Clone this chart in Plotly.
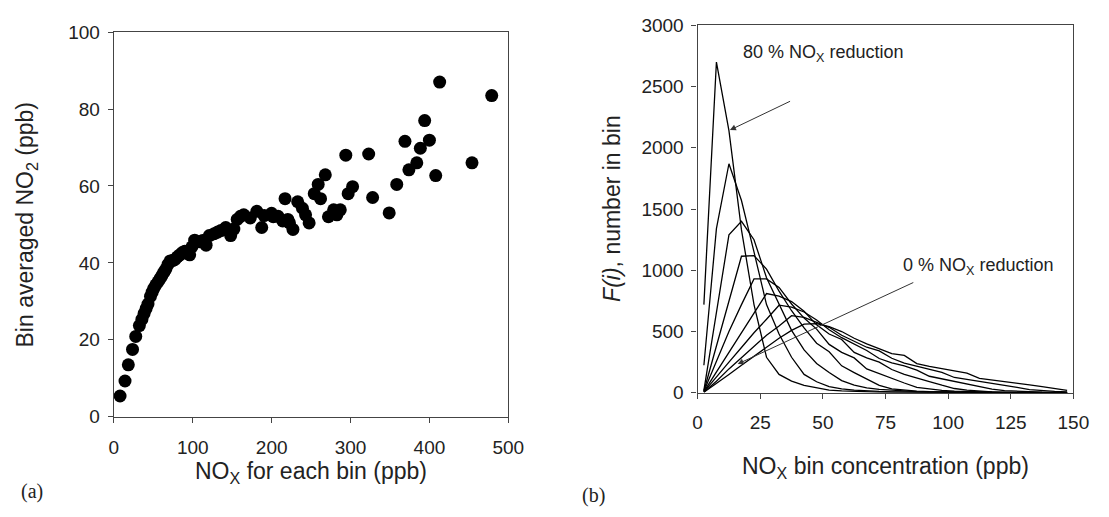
import plotly.graph_objects as go

# ---------------- Panel (a) data ----------------
nox_bin = [7.8, 14.1, 18.3, 23.6, 27.7, 32.3, 35.5, 38.2, 40.8, 43.2, 46.4, 48.5, 50.6, 53.2, 56, 58.5,
           60.9, 63.4, 65.9, 68.6, 71.3, 74.4, 77.5, 80.6, 83.7, 86.8, 89.9, 96.1, 99, 102.4, 108.6,
           112.5, 116.9, 121, 127.2, 131.5, 135.6, 141.8, 148, 152.1, 156.3, 160.5, 164.6, 172.9,
           181.2, 187.4, 190.5, 199.9, 202, 208.1, 214, 217, 220.5, 222.6, 227, 233, 239, 243,
           247.5, 254, 259, 262, 268, 272, 278.6, 282.7, 287, 294, 297, 302.6, 323, 328, 349,
           358.6, 369, 374, 384, 388.5, 394, 400, 408, 413, 454, 479]
no2_avg = [5.4, 9.3, 13.5, 17.5, 20.9, 23.7, 25.3, 26.8, 28.1, 29.3, 31.3, 32.4, 33.4, 34.3, 35.1, 35.9,
           36.7, 37.6, 38.4, 39.6, 40.5, 40.6, 40.9, 41.6, 42.1, 42.7, 43.0, 42.1, 44.2, 45.9, 45.5,
           45.8, 44.6, 47.1, 47.6, 48.0, 48.4, 49.2, 47.1, 48.8, 51.3, 52.1, 52.5, 51.7,
           53.4, 49.2, 52.3, 52.9, 52.0, 52.1, 50.9, 56.7, 51.3, 50.4, 48.7, 55.9, 54.2, 52.5,
           50.4, 58.0, 60.4, 56.7, 62.9, 52.0, 53.8, 52.5, 53.8, 68.0, 58.0, 59.8, 68.3, 57.0, 53.0,
           60.4, 71.6, 64.2, 66.0, 69.8, 77.0, 71.9, 62.7, 87.0, 66.0, 83.5]

# ---------------- Panel (b) data ----------------
bin_conc = [2.5, 7.5, 12.5, 17.5, 22.5, 27.5, 32.5, 37.5, 42.5, 47.5, 52.5, 57.5, 62.5, 67.5, 72.5,
            77.5, 82.5, 87.5, 92.5, 97.5, 102.5, 107.5, 112.5, 117.5, 122.5, 127.5, 132.5, 137.5,
            142.5, 147.5]
red80 = [720, 2700, 2140, 1330, 720, 290, 150, 95, 60, 40, 22, 15, 10, 8, 6, 5, 4, 3, 3, 2, 2, 2, 1, 1, 1, 1, 1, 0, 0, 0]
red70 = [225, 1340, 1870, 1570, 1150, 720, 480, 290, 150, 90, 50, 32, 22, 15, 11, 8, 6, 5, 4, 3, 3, 2, 2, 2, 1, 1, 1, 1, 0, 0]
red60 = [20, 640, 1290, 1400, 1250, 940, 720, 510, 350, 240, 165, 100, 62, 40, 28, 20, 14, 10, 8, 6, 5, 4, 3, 3, 2, 2, 1, 1, 1, 0]
red50 = [15, 380, 760, 1115, 1120, 1010, 830, 670, 530, 405, 335, 220, 165, 112, 60, 32, 20, 13, 9, 7, 5, 4, 3, 3, 2, 2, 1, 1, 1, 1]
red40 = [12, 250, 500, 720, 930, 930, 860, 725, 610, 520, 395, 330, 285, 195, 155, 120, 80, 45, 30, 20, 13, 9, 6, 5, 4, 3, 2, 2, 1, 1]
red30 = [10, 170, 340, 500, 660, 810, 790, 745, 665, 555, 480, 435, 330, 285, 250, 190, 150, 118, 92, 62, 35, 22, 13, 8, 5, 4, 3, 2, 2, 1]
red20 = [8, 125, 250, 370, 490, 600, 715, 700, 660, 595, 515, 450, 395, 345, 280, 245, 220, 185, 135, 115, 95, 75, 52, 30, 18, 12, 8, 5, 4, 3]
red10 = [6, 95, 195, 285, 375, 470, 545, 630, 615, 575, 535, 470, 420, 372, 342, 282, 242, 218, 196, 166, 125, 110, 93, 78, 60, 44, 26, 17, 11, 7]
red0 = [5, 75, 150, 225, 300, 375, 445, 510, 560, 565, 540, 500, 445, 400, 358, 320, 305, 238, 215, 196, 180, 160, 118, 106, 92, 78, 64, 50, 37, 20]
curves = [red80, red70, red60, red50, red40, red30, red20, red10, red0]

FONT = "Liberation Sans, Arial, sans-serif"
SERIF = "Liberation Serif, Times New Roman, serif"
W, H = 1109, 517

fig = go.Figure()
fig.add_trace(go.Scatter(x=nox_bin, y=no2_avg, mode="markers",
                         marker=dict(color="black", size=13, line=dict(width=0)),
                         xaxis="x", yaxis="y", showlegend=False))
for c in curves:
    fig.add_trace(go.Scatter(x=bin_conc, y=c, mode="lines",
                             line=dict(color="black", width=1.3),
                             xaxis="x2", yaxis="y2", showlegend=False))

axcommon = dict(showgrid=False, zeroline=False, showline=True, mirror=True,
                linecolor="#444", linewidth=1.3, ticks="outside", ticklen=5,
                tickcolor="#444", tickwidth=1.2,
                tickfont=dict(family=FONT, size=19, color="#222"))

def px_x(p):
    return p / W

def px_y(p):
    return (H - p) / H

fig.update_layout(
    width=W, height=H, margin=dict(l=0, r=0, t=0, b=0),
    paper_bgcolor="white", plot_bgcolor="white",
    xaxis=dict(domain=[px_x(111), px_x(513)], range=[0, 500], tickvals=[0, 100, 200, 300, 400, 500],
               anchor="y", ticklabelstandoff=8, **axcommon),
    yaxis=dict(domain=[px_y(424), px_y(23)], range=[0, 100], tickvals=[0, 20, 40, 60, 80, 100],
               anchor="x", ticklabelstandoff=4, **axcommon),
    xaxis2=dict(domain=[px_x(706), px_x(1089)], range=[0, 150], tickvals=[0, 25, 50, 75, 100, 125, 150],
                anchor="y2", ticklabelstandoff=7, **axcommon),
    yaxis2=dict(domain=[px_y(399), px_y(16)], range=[0, 3000],
                tickvals=[0, 500, 1000, 1500, 2000, 2500, 3000], anchor="x2", ticklabelstandoff=4, **axcommon),
)

ann = []
tf = dict(family=FONT, size=23, color="#222")
ann.append(dict(text="Bin averaged NO<sub>2</sub> (ppb)", x=px_x(22), y=px_y(224), xref="paper", yref="paper",
                textangle=-90, showarrow=False, font=tf, xanchor="center", yanchor="middle"))
ann.append(dict(text="NO<sub>X</sub> for each bin (ppb)", x=px_x(312), y=px_y(482), xref="paper", yref="paper",
                showarrow=False, font=tf, xanchor="center", yanchor="middle"))
ann.append(dict(text="<i>F(i)</i>, number in bin", x=px_x(618), y=px_y(207), xref="paper", yref="paper",
                textangle=-90, showarrow=False, font=tf, xanchor="center", yanchor="middle"))
ann.append(dict(text="NO<sub>X</sub> bin concentration (ppb)", x=px_x(897), y=px_y(477), xref="paper", yref="paper",
                showarrow=False, font=tf, xanchor="center", yanchor="middle"))
ann.append(dict(text="(a)", x=px_x(28), y=px_y(502), xref="paper", yref="paper", xanchor="center", yanchor="middle",
                showarrow=False, font=dict(family=SERIF, size=20, color="#222")))
ann.append(dict(text="(b)", x=px_x(600), y=px_y(506), xref="paper", yref="paper", xanchor="center", yanchor="middle",
                showarrow=False, font=dict(family=SERIF, size=20, color="#222")))
lf = dict(family=FONT, size=18, color="#222")
ann.append(dict(text="80 % NO<sub>X</sub> reduction", x=17.2, y=2772, xref="x2", yref="y2",
                showarrow=False, font=lf, xanchor="left", yanchor="middle"))
ann.append(dict(text="0 % NO<sub>X</sub> reduction", x=81, y=1034, xref="x2", yref="y2",
                showarrow=False, font=lf, xanchor="left", yanchor="middle"))
ann.append(dict(text="", x=12.9, y=2145, ax=37.5, ay=2386, xref="x2", yref="y2", axref="x2", ayref="y2",
                showarrow=True, arrowhead=2, arrowsize=1.2, arrowwidth=1, arrowcolor="#333", standoff=0))
ann.append(dict(text="", x=16, y=235, ax=86.7, ay=906, xref="x2", yref="y2", axref="x2", ayref="y2",
                showarrow=True, arrowhead=2, arrowsize=1.2, arrowwidth=1, arrowcolor="#333", standoff=0))
fig.update_layout(annotations=ann)

fig.write_html("out.html")
